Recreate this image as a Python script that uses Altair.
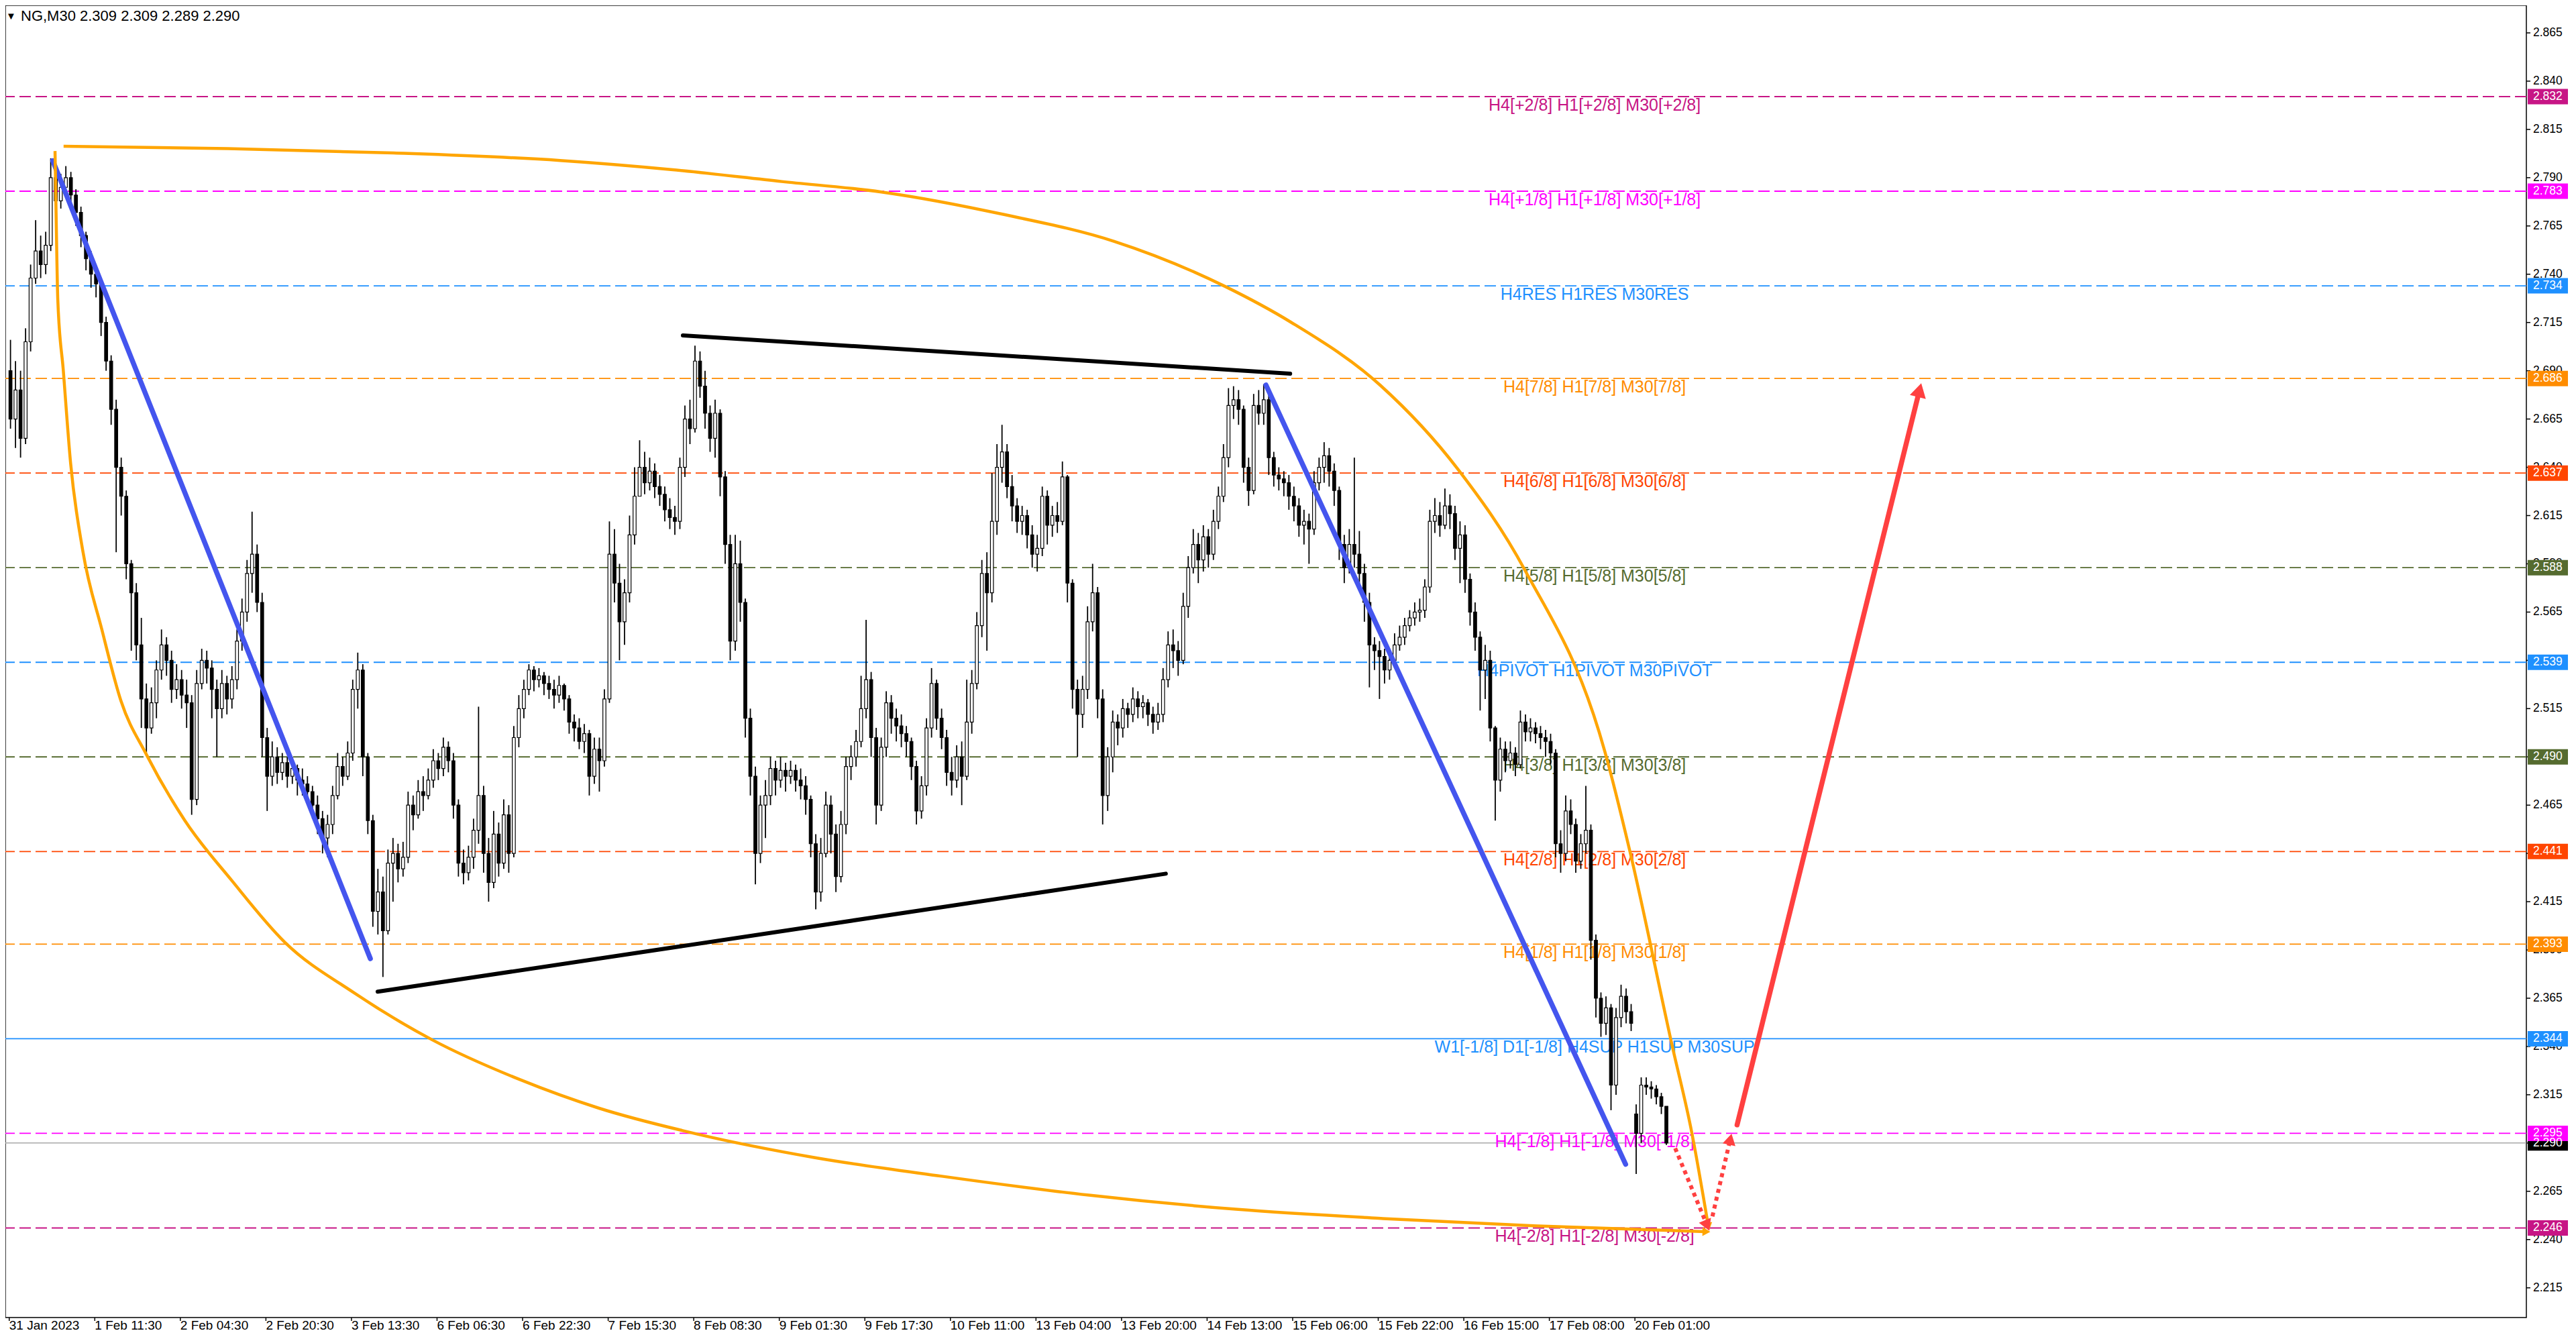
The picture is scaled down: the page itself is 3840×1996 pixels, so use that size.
import altair as alt
import pandas as pd

# NG, M30 - price, drawn as one candle per hour (two M30 bars)
FIRST_OPEN = 2.690
GAP_OPENS = {323: 2.305}  # first candle after the weekend opens with a gap

CLOSES = [
    2.665, 2.680, 2.655, 2.705, 2.738, 2.752, 2.745, 2.755, 2.790, 2.778,
    2.785, 2.790, 2.781, 2.772, 2.760, 2.748, 2.740, 2.735, 2.715, 2.695,
    2.670, 2.640, 2.625, 2.590, 2.575, 2.548, 2.520, 2.505, 2.518, 2.535,
    2.548, 2.540, 2.525, 2.530, 2.522, 2.518, 2.468, 2.528, 2.540, 2.536,
    2.525, 2.515, 2.528, 2.520, 2.530, 2.550, 2.565, 2.585, 2.595, 2.570,
    2.500, 2.480, 2.490, 2.482, 2.487, 2.480, 2.484, 2.478, 2.476, 2.472,
    2.465, 2.458, 2.448, 2.455, 2.470, 2.485, 2.480, 2.492, 2.525, 2.535,
    2.490, 2.457, 2.410, 2.420, 2.400, 2.435, 2.440, 2.432, 2.438, 2.465,
    2.460, 2.472, 2.470, 2.478, 2.488, 2.484, 2.495, 2.488, 2.465, 2.435,
    2.430, 2.438, 2.452, 2.470, 2.440, 2.425, 2.450, 2.435, 2.460, 2.440,
    2.500, 2.515, 2.525, 2.535, 2.530, 2.532, 2.528, 2.525, 2.522, 2.527,
    2.520, 2.508, 2.505, 2.498, 2.502, 2.480, 2.494, 2.488, 2.520, 2.595,
    2.580, 2.560, 2.575, 2.605, 2.625, 2.640, 2.632, 2.638, 2.630, 2.626,
    2.618, 2.614, 2.612, 2.640, 2.665, 2.660, 2.695, 2.682, 2.668, 2.655,
    2.668, 2.635, 2.600, 2.550, 2.590, 2.570, 2.510, 2.480, 2.440, 2.465,
    2.470, 2.484, 2.478, 2.483, 2.480, 2.483, 2.478, 2.475, 2.468, 2.445,
    2.420, 2.440, 2.465, 2.450, 2.428, 2.455, 2.485, 2.490, 2.498, 2.515,
    2.530, 2.500, 2.465, 2.495, 2.518, 2.510, 2.506, 2.502, 2.498, 2.485,
    2.462, 2.475, 2.505, 2.528, 2.510, 2.500, 2.482, 2.478, 2.490, 2.480,
    2.508, 2.528, 2.558, 2.585, 2.575, 2.612, 2.640, 2.648, 2.630, 2.620,
    2.612, 2.615, 2.605, 2.595, 2.598, 2.625, 2.610, 2.615, 2.612, 2.635,
    2.580, 2.525, 2.512, 2.525, 2.560, 2.575, 2.520, 2.470, 2.490, 2.508,
    2.505, 2.515, 2.512, 2.520, 2.516, 2.518, 2.512, 2.508, 2.512, 2.530,
    2.548, 2.545, 2.540, 2.568, 2.588, 2.600, 2.592, 2.604, 2.595, 2.612,
    2.625, 2.645, 2.672, 2.675, 2.670, 2.640, 2.628, 2.672, 2.668, 2.675,
    2.645, 2.636, 2.634, 2.632, 2.625, 2.620, 2.610, 2.612, 2.608, 2.632,
    2.640, 2.646, 2.638, 2.628, 2.600, 2.588, 2.600, 2.595, 2.585, 2.570,
    2.548, 2.545, 2.542, 2.535, 2.540, 2.548, 2.552, 2.558, 2.562, 2.565,
    2.566, 2.578, 2.612, 2.615, 2.610, 2.620, 2.616, 2.598, 2.605, 2.582,
    2.565, 2.552, 2.535, 2.540, 2.505, 2.478, 2.494, 2.488, 2.492, 2.486,
    2.508, 2.503, 2.505, 2.502, 2.500, 2.498, 2.492, 2.445, 2.440, 2.462,
    2.455, 2.436, 2.445, 2.452, 2.395, 2.365, 2.352, 2.360, 2.320, 2.355,
    2.366, 2.358, 2.352, 2.295, 2.320, 2.319, 2.318, 2.314, 2.309, 2.290,
]
HIGHS = [
    2.706, 2.695, 2.690, 2.712, 2.745, 2.768, 2.760, 2.762, 2.800, 2.795,
    2.792, 2.796, 2.793, 2.784, 2.775, 2.762, 2.752, 2.745, 2.735, 2.718,
    2.698, 2.675, 2.645, 2.628, 2.592, 2.580, 2.562, 2.528, 2.526, 2.540,
    2.556, 2.552, 2.545, 2.538, 2.535, 2.530, 2.522, 2.535, 2.546, 2.545,
    2.540, 2.530, 2.535, 2.532, 2.537, 2.556, 2.572, 2.592, 2.617, 2.600,
    2.575, 2.505, 2.498, 2.495, 2.492, 2.490, 2.490, 2.486, 2.484, 2.480,
    2.475, 2.470, 2.462, 2.460, 2.475, 2.492, 2.490, 2.498, 2.530, 2.544,
    2.538, 2.492, 2.460, 2.432, 2.428, 2.442, 2.448, 2.445, 2.446, 2.472,
    2.470, 2.478, 2.480, 2.484, 2.494, 2.492, 2.500, 2.498, 2.492, 2.468,
    2.442, 2.444, 2.458, 2.516, 2.475, 2.448, 2.462, 2.456, 2.468, 2.465,
    2.506, 2.522, 2.530, 2.538, 2.537, 2.536, 2.534, 2.532, 2.530, 2.532,
    2.528, 2.522, 2.512, 2.510, 2.507, 2.504, 2.500, 2.500, 2.525, 2.612,
    2.608, 2.590, 2.582, 2.615, 2.640, 2.654, 2.648, 2.645, 2.642, 2.636,
    2.630, 2.624, 2.620, 2.645, 2.672, 2.675, 2.703, 2.700, 2.690, 2.672,
    2.675, 2.670, 2.638, 2.605, 2.605, 2.602, 2.572, 2.515, 2.485, 2.470,
    2.478, 2.490, 2.488, 2.490, 2.487, 2.488, 2.486, 2.484, 2.480, 2.470,
    2.450, 2.448, 2.472, 2.470, 2.455, 2.462, 2.490, 2.496, 2.504, 2.532,
    2.561, 2.534, 2.505, 2.500, 2.524, 2.522, 2.515, 2.512, 2.506, 2.500,
    2.488, 2.480, 2.510, 2.536, 2.530, 2.515, 2.504, 2.490, 2.496, 2.498,
    2.530, 2.535, 2.565, 2.592, 2.596, 2.637, 2.652, 2.662, 2.652, 2.636,
    2.624, 2.620, 2.618, 2.610, 2.605, 2.630, 2.628, 2.620, 2.622, 2.643,
    2.636, 2.582, 2.530, 2.532, 2.568, 2.590, 2.578, 2.525, 2.495, 2.514,
    2.512, 2.520, 2.518, 2.526, 2.524, 2.522, 2.520, 2.516, 2.518, 2.536,
    2.555, 2.556, 2.550, 2.575, 2.594, 2.608, 2.606, 2.610, 2.608, 2.618,
    2.630, 2.652, 2.681, 2.682, 2.680, 2.672, 2.645, 2.678, 2.680, 2.683,
    2.678, 2.648, 2.640, 2.638, 2.636, 2.630, 2.624, 2.618, 2.616, 2.638,
    2.645, 2.653, 2.650, 2.642, 2.630, 2.605, 2.608, 2.645, 2.607, 2.590,
    2.575, 2.552, 2.550, 2.546, 2.546, 2.554, 2.558, 2.562, 2.566, 2.570,
    2.572, 2.582, 2.618, 2.624, 2.622, 2.629, 2.626, 2.620, 2.612, 2.610,
    2.585, 2.570, 2.555, 2.548, 2.545, 2.506, 2.500, 2.498, 2.498, 2.495,
    2.514, 2.512, 2.510, 2.508, 2.506, 2.504, 2.502, 2.494, 2.452, 2.470,
    2.468, 2.458, 2.450, 2.475, 2.455, 2.398, 2.368, 2.366, 2.362, 2.360,
    2.372, 2.370, 2.362, 2.310, 2.324, 2.324, 2.322, 2.320, 2.316, 2.309,
]
LOWS = [
    2.660, 2.650, 2.645, 2.652, 2.700, 2.735, 2.738, 2.740, 2.752, 2.770,
    2.774, 2.780, 2.776, 2.765, 2.754, 2.742, 2.733, 2.728, 2.708, 2.690,
    2.662, 2.596, 2.615, 2.582, 2.545, 2.540, 2.505, 2.492, 2.502, 2.510,
    2.530, 2.532, 2.518, 2.520, 2.515, 2.505, 2.460, 2.465, 2.525, 2.528,
    2.510, 2.490, 2.510, 2.512, 2.515, 2.525, 2.545, 2.560, 2.575, 2.565,
    2.490, 2.462, 2.475, 2.476, 2.478, 2.474, 2.476, 2.470, 2.470, 2.466,
    2.458, 2.450, 2.440, 2.438, 2.450, 2.468, 2.475, 2.478, 2.488, 2.515,
    2.480, 2.450, 2.402, 2.398, 2.376, 2.398, 2.415, 2.425, 2.428, 2.435,
    2.452, 2.458, 2.462, 2.468, 2.474, 2.478, 2.480, 2.482, 2.458, 2.428,
    2.424, 2.426, 2.432, 2.445, 2.430, 2.415, 2.422, 2.428, 2.432, 2.430,
    2.438, 2.495, 2.510, 2.522, 2.524, 2.526, 2.522, 2.520, 2.515, 2.518,
    2.514, 2.502, 2.498, 2.494, 2.492, 2.470, 2.476, 2.472, 2.485, 2.518,
    2.570, 2.540, 2.548, 2.570, 2.600, 2.625, 2.626, 2.628, 2.624, 2.620,
    2.612, 2.608, 2.605, 2.608, 2.635, 2.652, 2.658, 2.676, 2.660, 2.648,
    2.645, 2.625, 2.590, 2.540, 2.545, 2.560, 2.500, 2.470, 2.424, 2.435,
    2.448, 2.465, 2.470, 2.474, 2.472, 2.476, 2.472, 2.468, 2.460, 2.438,
    2.411, 2.415, 2.438, 2.440, 2.420, 2.425, 2.450, 2.478, 2.485, 2.495,
    2.510, 2.490, 2.455, 2.462, 2.490, 2.502, 2.498, 2.495, 2.490, 2.478,
    2.455, 2.458, 2.470, 2.500, 2.504, 2.494, 2.475, 2.470, 2.474, 2.465,
    2.478, 2.502, 2.525, 2.552, 2.545, 2.570, 2.605, 2.632, 2.624, 2.612,
    2.606, 2.605, 2.598, 2.588, 2.586, 2.594, 2.600, 2.604, 2.606, 2.610,
    2.570, 2.515, 2.490, 2.505, 2.520, 2.555, 2.510, 2.455, 2.462, 2.482,
    2.496, 2.500, 2.505, 2.508, 2.510, 2.510, 2.506, 2.502, 2.504, 2.508,
    2.526, 2.536, 2.532, 2.538, 2.562, 2.585, 2.580, 2.586, 2.588, 2.592,
    2.608, 2.622, 2.640, 2.665, 2.662, 2.632, 2.620, 2.626, 2.662, 2.662,
    2.636, 2.630, 2.628, 2.625, 2.618, 2.612, 2.604, 2.600, 2.590, 2.605,
    2.628, 2.632, 2.630, 2.620, 2.592, 2.580, 2.585, 2.588, 2.578, 2.560,
    2.526, 2.535, 2.520, 2.528, 2.530, 2.538, 2.545, 2.548, 2.555, 2.558,
    2.560, 2.562, 2.575, 2.606, 2.604, 2.608, 2.608, 2.592, 2.580, 2.575,
    2.558, 2.545, 2.514, 2.520, 2.498, 2.457, 2.472, 2.482, 2.484, 2.480,
    2.484, 2.498, 2.498, 2.497, 2.494, 2.490, 2.486, 2.438, 2.430, 2.436,
    2.450, 2.430, 2.432, 2.440, 2.385, 2.355, 2.345, 2.346, 2.307, 2.315,
    2.350, 2.352, 2.348, 2.274, 2.290, 2.315, 2.313, 2.310, 2.305, 2.289,
]

TIME_LABELS = [
    "31 Jan 2023", "1 Feb 11:30", "2 Feb 04:30", "2 Feb 20:30", "3 Feb 13:30",
    "6 Feb 06:30", "6 Feb 22:30", "7 Feb 15:30", "8 Feb 08:30", "9 Feb 01:30",
    "9 Feb 17:30", "10 Feb 11:00", "13 Feb 04:00", "13 Feb 20:00", "14 Feb 13:00",
    "15 Feb 06:00", "15 Feb 22:00", "16 Feb 15:00", "17 Feb 08:00", "20 Feb 01:00",
]
BARS_PER_LABEL = 34  # M30 bars between two time labels

PRICE_TICKS = [
    2.215, 2.240, 2.265, 2.290, 2.315, 2.340, 2.365, 2.390, 2.415, 2.440,
    2.465, 2.490, 2.515, 2.540, 2.565, 2.590, 2.615, 2.640, 2.665, 2.690,
    2.715, 2.740, 2.765, 2.790, 2.815, 2.840, 2.865,
]

LEVEL_PRICES = [2.832, 2.783, 2.734, 2.686, 2.637, 2.588, 2.539,
                2.490, 2.441, 2.393, 2.344, 2.295, 2.246]
LEVEL_TEXTS = [
    "H4[+2/8] H1[+2/8] M30[+2/8]",
    "H4[+1/8] H1[+1/8] M30[+1/8]",
    "H4RES H1RES M30RES",
    "H4[7/8] H1[7/8] M30[7/8]",
    "H4[6/8] H1[6/8] M30[6/8]",
    "H4[5/8] H1[5/8] M30[5/8]",
    "H4PIVOT H1PIVOT M30PIVOT",
    "H4[3/8] H1[3/8] M30[3/8]",
    "H4[2/8] H1[2/8] M30[2/8]",
    "H4[1/8] H1[1/8] M30[1/8]",
    "W1[-1/8] D1[-1/8] H4SUP H1SUP M30SUP",
    "H4[-1/8] H1[-1/8] M30[-1/8]",
    "H4[-2/8] H1[-2/8] M30[-2/8]",
]
CURRENT_PRICE = 2.290
TITLE = "NG,M30  2.309 2.309 2.289 2.290"

# drawn objects as (M30 bar index, price)
BLUE_LINES = [[(17.3, 2.7988), (143.5, 2.3855)],
              [(499.4, 2.6826), (642.3, 2.2790)]]
BLACK_LINES = [[(267.7, 2.7083), (509.0, 2.6885)],
               [(146.4, 2.3684), (459.6, 2.4295)]]
UPPER_ARC = [(21.6, 2.8063), (86.8, 2.8051), (152.8, 2.8028), (218.9, 2.7989),
             (262.9, 2.7942), (307.0, 2.7880), (346.6, 2.7826), (395.0, 2.7710),
             (439.1, 2.7570), (483.1, 2.7337), (509.5, 2.7150), (544.8, 2.6825),
             (575.6, 2.6391), (602.3, 2.5867), (634.0, 2.4930), (644.1, 2.4406),
             (660.7, 2.3410), (668.6, 2.2954), (675.2, 2.2467)]
LOWER_ARC = [(18.2, 2.8038), (18.6, 2.7735), (19.3, 2.7268), (21.5, 2.6900),
             (24.4, 2.6420), (29.2, 2.5970), (36.8, 2.5560), (44.4, 2.5190),
             (54.6, 2.4910), (69.8, 2.4570), (88.4, 2.4260), (109.5, 2.3940),
             (136.8, 2.3680), (168.0, 2.3435), (203.0, 2.3228), (234.2, 2.3081),
             (273.2, 2.2947), (319.9, 2.2825), (370.6, 2.2728), (429.0, 2.2630),
             (487.4, 2.2557), (545.9, 2.2509), (604.3, 2.2472), (674.4, 2.2441)]
RED_ARROW = [(686.6, 2.2994), (759.1, 2.6800)]
RED_DOTTED = [[(662.0, 2.2873), (674.7, 2.2473)],
              [(676.8, 2.2520), (683.9, 2.2920)]]

# ---- styling ----
W, H = 3758, 1956
NARROW = "Liberation Sans Narrow, Liberation Sans, Arial, sans-serif"
PLAIN = "Liberation Sans, Arial, sans-serif"
GRID = "#c4c4c4"
LEVEL_COLORS = ["#C71585", "#FF00FF", "#1E90FF", "#FF8C00", "#FF4500", "#556B2F", "#1E90FF",
                "#556B2F", "#FF4500", "#FF8C00", "#1E90FF", "#FF00FF", "#C71585"]
LABEL_BAR = 630.0

XS = alt.Scale(domain=[-0.2, 998.9], nice=False, zero=False)
YS = alt.Scale(domain=[2.19961, 2.87925], nice=False, zero=False)

opens, prev = [], FIRST_OPEN
for k, c in enumerate(CLOSES):
    opens.append(GAP_OPENS.get(k, prev))
    prev = c
candles = pd.DataFrame({
    "x": [2 * k + 0.5 for k in range(len(CLOSES))],
    "open": opens, "close": CLOSES, "high": HIGHS, "low": LOWS,
})
candles["up"] = candles["close"] >= candles["open"]

# axes only draw the dashed grid, labels and ticks are text / rule layers below
x_grid = alt.Axis(values=list(range(0, 999, BARS_PER_LABEL // 2)), labels=False, ticks=False,
                  domain=False, grid=True, gridDash=[3, 3], gridColor=GRID, gridWidth=1.5,
                  title=None)
y_grid = alt.Axis(orient="right", values=PRICE_TICKS, labels=False, ticks=False,
                  domain=False, grid=True, gridDash=[3, 3], gridColor=GRID, gridWidth=1.5,
                  title=None)


def xq(field="x", axis=None):
    return alt.X(field + ":Q", scale=XS, axis=axis)


def yq(field="y", axis=None):
    return alt.Y(field + ":Q", scale=YS, axis=axis)


def segments(lines):
    rows = []
    for g, line in enumerate(lines):
        for i, (x, y) in enumerate(line):
            rows.append({"x": x, "y": y, "g": g, "o": i})
    return pd.DataFrame(rows)


def line_layer(lines, color, width, **kw):
    return alt.Chart(segments(lines)).mark_line(
        color=color, strokeWidth=width, clip=True, **kw
    ).encode(x=xq(), y=yq(), detail="g:N", order="o:Q")


def head(pt, shape, angle, color, size):
    return alt.Chart(pd.DataFrame([{"x": pt[0], "y": pt[1]}])).mark_point(
        shape=shape, angle=angle, size=size, filled=True, opacity=1, color=color, clip=True
    ).encode(x=xq(), y=yq())


levels = pd.DataFrame({
    "price": LEVEL_PRICES, "text": LEVEL_TEXTS, "color": LEVEL_COLORS,
    "solid": [p == 2.344 for p in LEVEL_PRICES], "lx": LABEL_BAR,
})
boxes = pd.concat([
    pd.DataFrame({"price": [CURRENT_PRICE], "color": ["#000000"]}),
    levels[["price", "color"]],
], ignore_index=True)
times = pd.DataFrame({"x": [BARS_PER_LABEL * i for i in range(len(TIME_LABELS))],
                      "label": TIME_LABELS})
prices = pd.DataFrame({"price": PRICE_TICKS})

level_rules = alt.Chart(levels).mark_rule(strokeWidth=1.8, clip=True).encode(
    y=yq("price"),
    color=alt.Color("color:N", scale=None),
    strokeDash=alt.condition("datum.solid", alt.value([1, 0]), alt.value([17, 7])),
)
bid_line = alt.Chart(pd.DataFrame({"price": [CURRENT_PRICE]})).mark_rule(
    color="#a8a8a8", strokeWidth=1.5
).encode(y=yq("price"))
level_text = alt.Chart(levels).mark_text(
    font=NARROW, fontSize=25, align="center", baseline="middle", dy=13, clip=True
).encode(x=xq("lx"), y=yq("price"), text="text:N", color=alt.Color("color:N", scale=None))

wicks = alt.Chart(candles).mark_rule(color="black", strokeWidth=1.8, clip=True).encode(
    x=xq(axis=x_grid), y=yq("low", axis=y_grid), y2="high"
)
bodies = alt.Chart(candles).mark_bar(size=4.5, stroke="black", strokeWidth=1.2, clip=True).encode(
    x=xq(), y=yq("open"), y2="close",
    fill=alt.condition("datum.up", alt.value("white"), alt.value("black")),
)

blue = line_layer(BLUE_LINES, "#4455EE", 7.5, strokeCap="round")
black = line_layer(BLACK_LINES, "black", 6, strokeCap="round")
upper = line_layer([UPPER_ARC], "#FFA500", 4.5, interpolate="monotone")
lower = line_layer([LOWER_ARC], "#FFA500", 4.5, interpolate="monotone")
red = line_layer([RED_ARROW], "#FF4040", 7.5, strokeCap="round")
red_dots = line_layer(RED_DOTTED, "#FF4040", 6, strokeDash=[6, 6])

heads = [
    head(UPPER_ARC[-1], "triangle-down", 350, "#FFA500", 180),
    head(LOWER_ARC[-1], "triangle-right", 2, "#FFA500", 180),
    head(RED_ARROW[-1], "triangle-up", 14, "#FF4040", 600),
    head(RED_DOTTED[0][-1], "triangle-down", 337, "#FF4040", 380),
    head(RED_DOTTED[1][-1], "triangle-up", 13, "#FF4040", 380),
]

time_ticks = alt.Chart(times).mark_rule(color="black", strokeWidth=1.5, clip=False).encode(
    x=xq(), y=alt.value(H), y2=alt.value(H + 5)
)
time_text = alt.Chart(times).mark_text(
    font=NARROW, fontSize=19, align="left", baseline="top", color="black", clip=False
).encode(x=xq(), y=alt.value(H + 3), text="label:N")
price_ticks = alt.Chart(prices).mark_rule(color="black", strokeWidth=1.5, clip=False).encode(
    x=alt.value(W), x2=alt.value(W + 6), y=yq("price")
)
price_text = alt.Chart(prices).mark_text(
    font=PLAIN, fontSize=17.5, align="left", baseline="middle", color="black", clip=False
).encode(x=alt.value(W + 10), y=yq("price"), text=alt.Text("price:Q", format=".3f"))

box_rects = alt.Chart(boxes).mark_rect(yOffset=-11.5, y2Offset=11.5, clip=False).encode(
    x=alt.value(W + 2), x2=alt.value(W + 62), y=yq("price"), y2="price",
    color=alt.Color("color:N", scale=None),
)
box_text = alt.Chart(boxes).mark_text(
    font=PLAIN, fontSize=17.5, align="left", baseline="middle", color="white", clip=False
).encode(x=alt.value(W + 10), y=yq("price"), text=alt.Text("price:Q", format=".3f"))

title_df = pd.DataFrame({"t": [TITLE]})
title_arrow = alt.Chart(title_df).mark_text(
    text="\u25bc", font=PLAIN, fontSize=15, align="left", baseline="top", color="black"
).encode(x=alt.value(1), y=alt.value(9))
title = alt.Chart(title_df).mark_text(
    font=NARROW, fontSize=22, align="left", baseline="top", color="black"
).encode(x=alt.value(23), y=alt.value(6), text="t:N")

chart = alt.layer(
    level_rules, bid_line, level_text, wicks, bodies,
    blue, black, upper, lower, red, red_dots, *heads,
    time_ticks, time_text, price_ticks, price_text,
    box_rects, box_text, title_arrow, title,
).properties(
    width=W, height=H, autosize="none",
    padding={"left": 0, "top": 0, "right": 66, "bottom": 24},
    background="white",
).configure_view(stroke="black", strokeWidth=1.5)

chart.save("out.html", embed_options={"renderer": "svg", "actions": False})
